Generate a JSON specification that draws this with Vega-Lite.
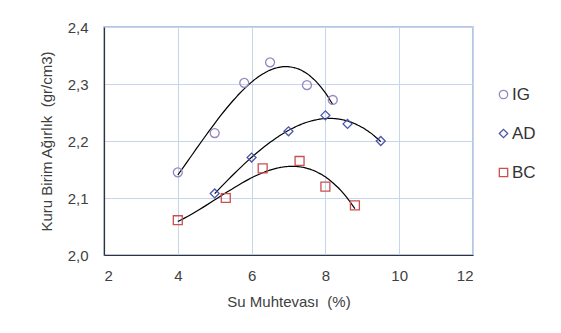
{
  "$schema": "https://vega.github.io/schema/vega-lite/v6.json",
  "width": 369,
  "height": 228,
  "padding": {"left": 104, "top": 27, "right": 88, "bottom": 78},
  "autosize": {"type": "none"},
  "background": "white",
  "config": {
    "font": "Liberation Sans",
    "view": {"stroke": "#9fb4d8", "strokeWidth": 1.5},
    "axis": {"gridColor": "#c5d5ee", "gridWidth": 1, "labelColor": "#404040", "titleColor": "#404040", "labelFontSize": 15, "titleFontSize": 15, "titleFontWeight": "normal", "ticks": false, "domainColor": "#333333", "domainWidth": 1.2}
  },
  "data": {
    "values": [
      {"s": "IG", "w": 4.0, "d": 2.145},
      {"s": "IG", "w": 5.0, "d": 2.214},
      {"s": "IG", "w": 5.8, "d": 2.302},
      {"s": "IG", "w": 6.5, "d": 2.338},
      {"s": "IG", "w": 7.5, "d": 2.298},
      {"s": "IG", "w": 8.2, "d": 2.272},
      {"s": "AD", "w": 5.0, "d": 2.108},
      {"s": "AD", "w": 6.0, "d": 2.171},
      {"s": "AD", "w": 7.0, "d": 2.217},
      {"s": "AD", "w": 8.0, "d": 2.245},
      {"s": "AD", "w": 8.6, "d": 2.230},
      {"s": "AD", "w": 9.5, "d": 2.200},
      {"s": "BC", "w": 4.0, "d": 2.061},
      {"s": "BC", "w": 5.3, "d": 2.100},
      {"s": "BC", "w": 6.3, "d": 2.152},
      {"s": "BC", "w": 7.3, "d": 2.165},
      {"s": "BC", "w": 8.0, "d": 2.120},
      {"s": "BC", "w": 8.8, "d": 2.087}
    ]
  },
  "layer": [
    {
      "transform": [
        {"regression": "d", "on": "w", "groupby": ["s"], "method": "poly", "order": 3}
      ],
      "mark": {"type": "line", "color": "black", "strokeWidth": 1.2, "interpolate": "monotone"},
      "encoding": {
        "x": {"field": "w", "type": "quantitative"},
        "y": {"field": "d", "type": "quantitative"},
        "detail": {"field": "s"}
      }
    },
    {
      "mark": {"type": "point", "filled": false, "size": 80, "strokeWidth": 1.3, "opacity": 1},
      "encoding": {
        "x": {
          "field": "w", "type": "quantitative",
          "scale": {"domain": [2, 12], "nice": false, "zero": false},
          "axis": {"values": [2, 4, 6, 8, 10, 12], "title": "Su Muhtevası\u00a0 (%)", "labelPadding": 13, "titlePadding": 11, "domain": true}
        },
        "y": {
          "field": "d", "type": "quantitative",
          "scale": {"domain": [2.0, 2.4], "nice": false, "zero": false},
          "axis": {"values": [2.0, 2.1, 2.2, 2.3, 2.4], "labelExpr": "replace(format(datum.value, '.1f'), '.', ',')", "title": "Kuru Birim Ağırlık\u00a0 (gr/cm3)", "labelPadding": 16, "titlePadding": 13}
        },
        "color": {
          "field": "s", "type": "nominal",
          "scale": {"domain": ["IG", "AD", "BC"], "range": ["#9685c0", "#4b57aa", "#c9504c"]},
          "legend": {"title": null, "orient": "none", "legendX": 391, "legendY": 59, "labelFontSize": 17, "labelColor": "#333333", "rowPadding": 21, "symbolSize": 70, "symbolStrokeWidth": 1.3, "labelOffset": 0}
        },
        "shape": {
          "field": "s", "type": "nominal",
          "scale": {"domain": ["IG", "AD", "BC"], "range": ["circle", "diamond", "square"]},
          "legend": null
        }
      }
    }
  ]
}
